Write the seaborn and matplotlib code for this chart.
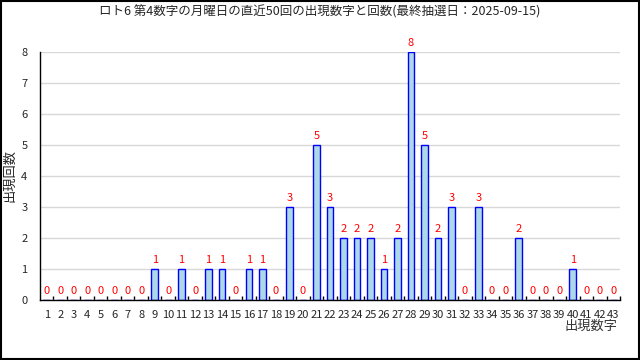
import matplotlib
matplotlib.use("Agg")
import matplotlib.pyplot as plt
import seaborn as sns
import pandas as pd
import numpy as np

numbers = [str(i) for i in range(1, 44)]
counts = [0, 0, 0, 0, 0, 0, 0, 0, 1, 0,
          1, 0, 1, 1, 0, 1, 1, 0, 3, 0,
          5, 3, 2, 2, 2, 1, 2, 8, 5, 2,
          3, 0, 3, 0, 0, 2, 0, 0, 0, 1,
          0, 0, 0]
yticks = list(range(0, 9))

sns.set_theme(style="white")
plt.rcParams['font.family'] = ['Noto Sans CJK JP', 'DejaVu Sans']

df = pd.DataFrame({"num": numbers, "count": counts})

fig = plt.figure(figsize=(6.4, 3.6), dpi=100)
ax = fig.add_axes([40/640, 1 - 300/360, 580/640, 248/360])

sns.barplot(data=df, x="num", y="count", ax=ax, width=0.5,
            color="#add8e6", edgecolor="#0000ff", linewidth=1.0, saturation=1)

for i, c in enumerate(counts):
    ax.text(i, c + 0.12, str(c), ha="center", va="bottom", color="#ff0000", fontsize=8)

ax.set_xlim(-0.5, len(numbers) - 0.5)
ax.set_ylim(0, 8)
ax.set_yticks(yticks)
ax.set_yticklabels([str(v) for v in yticks], fontsize=8)
ax.yaxis.grid(True, color="#d8d8d8", linewidth=1)
ax.set_axisbelow(True)
ax.tick_params(axis="x", length=0, labelsize=8, pad=7)
ax.tick_params(axis="y", length=0, pad=9)
ax.set_xticks(range(len(numbers)))
ax.set_xticklabels(numbers)
ax.set_xticks(np.arange(0.5, len(numbers) - 0.5 + 0.01, 1.0), minor=True)
ax.tick_params(axis="x", which="minor", direction="in", length=3, color="black", width=1, bottom=True)

for side in ["top", "right"]:
    ax.spines[side].set_visible(False)
for side in ["left", "bottom"]:
    ax.spines[side].set_color("black")
    ax.spines[side].set_linewidth(1)

ax.set_xlabel("")
ax.set_ylabel("")
fig.text(0.5, 1 - 12/360, "ロト6 第4数字の月曜日の直近50回の出現数字と回数(最終抽選日：2025-09-15)",
         ha="center", va="center", fontsize=9)
fig.text(10/640, 1 - 175/360, "出現回数", rotation=90, ha="center", va="center", fontsize=9.5)
fig.text(617/640, 1 - 326/360, "出現数字", ha="right", va="center", fontsize=9.5, color="#333333")

border = plt.Rectangle((0.001, 0.002), 0.997, 0.996, transform=fig.transFigure,
                       fill=False, edgecolor="black", linewidth=1.5)
fig.patches.append(border)

fig.savefig("out.png", dpi=100)
